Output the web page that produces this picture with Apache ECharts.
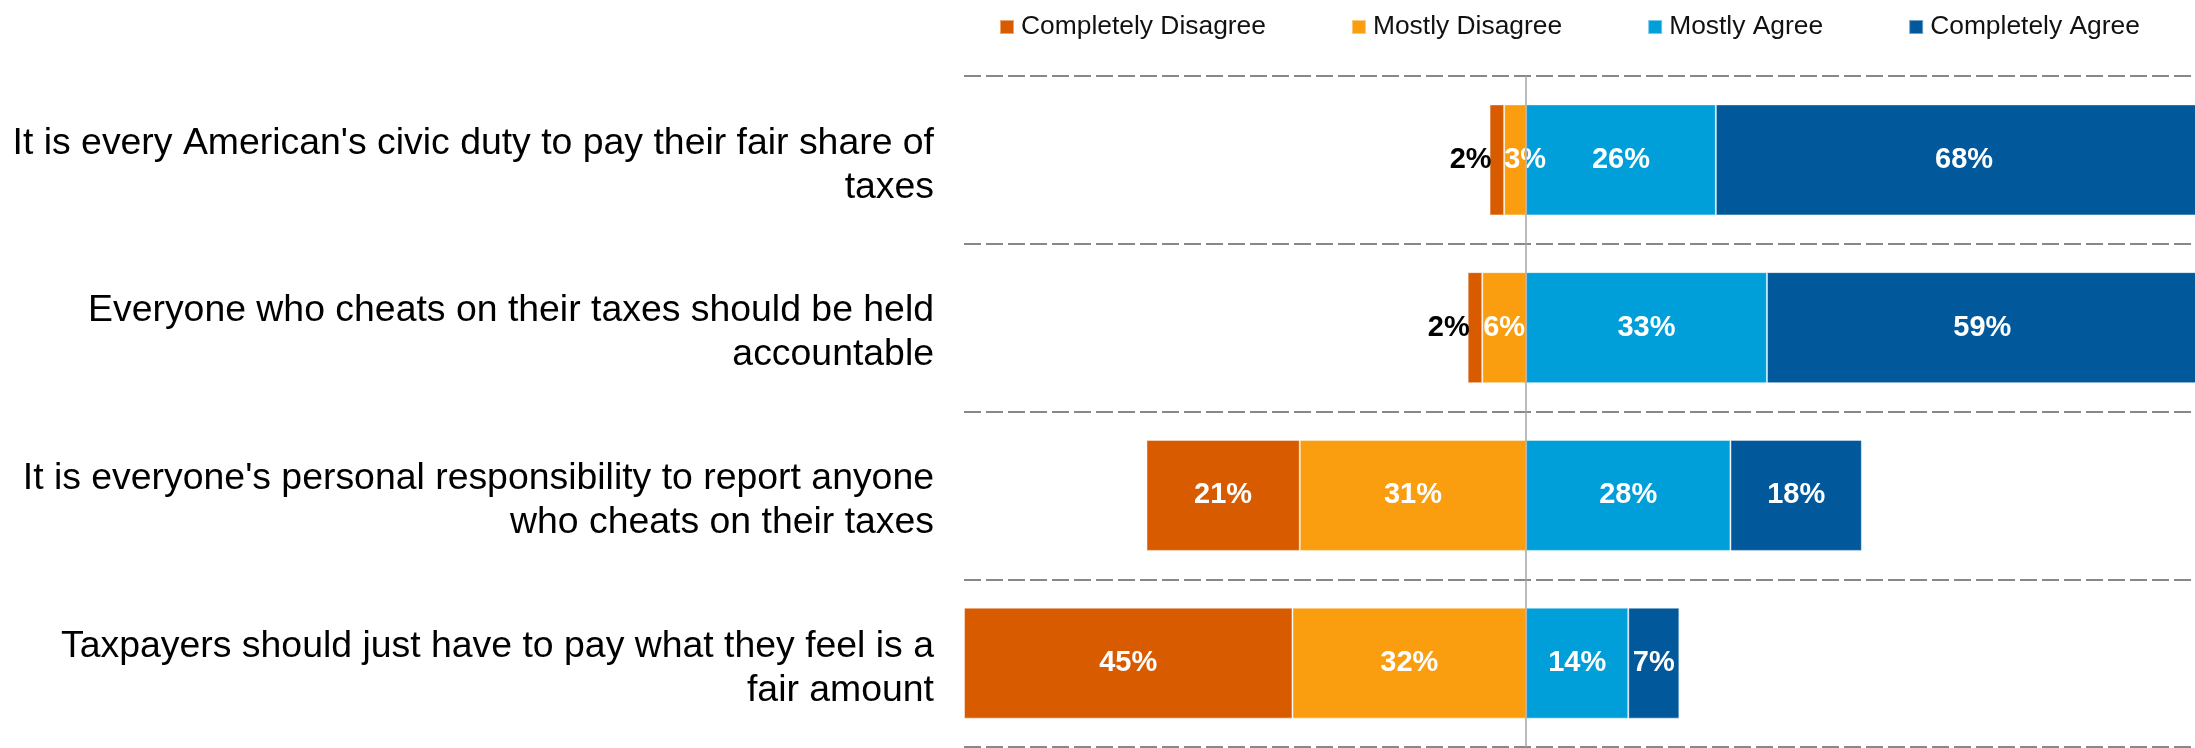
<!DOCTYPE html>
<html>
<head>
<meta charset="utf-8">
<title>Attitudes toward paying taxes</title>
<script src="https://cdn.jsdelivr.net/npm/echarts@6/dist/echarts.min.js"></script>
<style>
  html, body { margin: 0; padding: 0; background: #ffffff; }
  #chart { width: 2195px; height: 748px; }
</style>
</head>
<body>
<div id="chart"></div>
<script>
// Survey statements (two-line labels) and the share of answers per response
const categories = [
  "It is every American's civic duty to pay their fair share of\ntaxes",
  "Everyone who cheats on their taxes should be held\naccountable",
  "It is everyone's personal responsibility to report anyone\nwho cheats on their taxes",
  "Taxpayers should just have to pay what they feel is a\nfair amount"
];
const responseNames = ['Completely Disagree', 'Mostly Disagree', 'Mostly Agree', 'Completely Agree'];
const completelyDisagree = [2, 2, 21, 45];
const mostlyDisagree = [3, 6, 31, 32];
const mostlyAgree = [26, 33, 28, 14];
const completelyAgree = [68, 59, 18, 7];

const FONT = "'Liberation Sans', Arial, Helvetica, sans-serif";
const colors = {
  'Completely Disagree': '#D95B00',
  'Mostly Disagree': '#FA9E0F',
  'Mostly Agree': '#009FDA',
  'Completely Agree': '#01599C'
};

const valueLabel = {
  show: true,
  position: 'inside',
  color: '#ffffff',
  fontFamily: FONT,
  fontWeight: 'bold',
  fontSize: 29,
  formatter: p => Math.abs(p.value) + '%'
};

// Disagree answers extend to the left of zero; narrow segments get their labels moved aside
function buildData(values, sign, narrowLabel) {
  return values.map(v => {
    const item = { value: sign * v };
    if (narrowLabel && v < 5) item.label = narrowLabel;
    return item;
  });
}

function barSeries(name, data) {
  return {
    name: name,
    type: 'bar',
    stack: 'total',
    barWidth: 111,
    clip: false,
    itemStyle: {
      color: colors[name],
      borderColor: 'rgba(255,255,255,0.45)',
      borderWidth: 1
    },
    label: valueLabel,
    emphasis: { disabled: true },
    data: data
  };
}

const series = [
  barSeries('Mostly Disagree', buildData(mostlyDisagree, -1, { offset: [10, 0] })),
  barSeries('Completely Disagree', buildData(completelyDisagree, -1, {
    position: 'left', distance: -2, color: '#000000'
  })),
  barSeries('Mostly Agree', buildData(mostlyAgree, 1)),
  barSeries('Completely Agree', buildData(completelyAgree, 1))
];

// Vertical reference line at zero
series[3].markLine = {
  silent: true,
  symbol: ['none', 'none'],
  label: { show: false },
  lineStyle: { color: '#A5A5A5', width: 1.5, type: 'solid' },
  data: [{ xAxis: 0 }]
};

// Statement text style; top padding nudges each line slightly downward
const statementText = {
  fontFamily: FONT,
  fontSize: 37.4,
  lineHeight: 44,
  color: '#000000',
  padding: [11, 0, 0, 0]
};

const chart = echarts.init(document.getElementById('chart'), null, { renderer: 'canvas' });
chart.setOption({
  animation: false,
  backgroundColor: '#ffffff',
  legend: {
    data: responseNames,
    left: 999,
    top: 12,
    padding: 0,
    icon: 'rect',
    itemWidth: 14,
    itemHeight: 14,
    itemGap: 85,
    textStyle: {
      fontFamily: FONT,
      fontSize: 26.4,
      color: '#111111',
      lineHeight: 30,
      padding: [0, 0, 0, 2]
    }
  },
  grid: {
    left: 964,
    right: 0,
    top: 76,
    bottom: 1,
    containLabel: false
  },
  xAxis: {
    type: 'value',
    min: -77,
    max: 91.64,
    show: false,
    splitLine: { show: false }
  },
  yAxis: {
    type: 'category',
    inverse: true,
    data: categories,
    axisLine: { show: false },
    axisTick: { show: false },
    axisLabel: {
      margin: 30,
      align: 'right',
      fontFamily: FONT,
      fontSize: 37.4,
      lineHeight: 44,
      color: '#000000',
      formatter: value => value.split('\n').map(line => '{s|' + line + '}').join('\n'),
      rich: { s: statementText }
    },
    splitLine: {
      show: true,
      lineStyle: { color: '#888888', width: 2, type: [17, 5] }
    }
  },
  series: series
});
</script>
</body>
</html>
